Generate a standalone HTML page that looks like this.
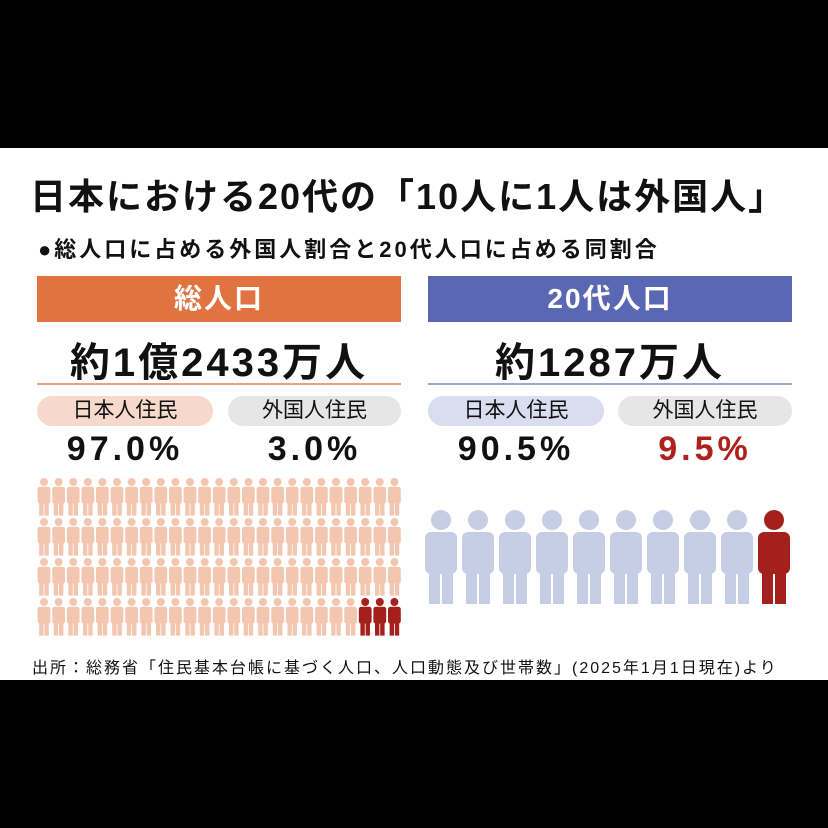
<!DOCTYPE html><html><head><meta charset="utf-8"><style>
body{margin:0;width:828px;height:828px;background:#000;position:relative;overflow:hidden;font-family:"Liberation Sans","Noto Sans CJK JP",sans-serif;}
.w{position:absolute;left:0;top:148px;width:828px;height:532px;background:#fff;}
.a{position:absolute;white-space:nowrap;color:#111;}
.bar{position:absolute;top:128px;height:46px;color:#fff;font-weight:bold;font-size:28px;text-align:center;line-height:46px;letter-spacing:2px;}
.pill{position:absolute;top:248px;height:30px;border-radius:15px;font-size:21px;text-align:center;line-height:30px;color:#111;}
.big{font-size:40px;font-weight:bold;text-align:center;letter-spacing:3px;}
.pct{font-size:34px;font-weight:bold;text-align:center;letter-spacing:4px;}
</style></head><body>
<div class="w">
<div class="a" style="left:30px;top:20px;font-size:36px;font-weight:bold;letter-spacing:2px">日本における20代の「10人に1人は外国人」</div>
<div class="a" style="left:38px;top:84px;font-size:22px;font-weight:bold;letter-spacing:3px">●総人口に占める外国人割合と20代人口に占める同割合</div>
<div class="bar" style="left:37px;width:364px;background:#e0733f">総人口</div>
<div class="bar" style="left:428px;width:364px;background:#5a68b3">20代人口</div>
<div class="a big" style="left:37px;width:364px;top:182px">約1億2433万人</div>
<div class="a big" style="left:428px;width:364px;top:182px">約1287万人</div>
<div class="a" style="left:37px;width:364px;top:235px;height:2px;background:#e8a080"></div>
<div class="a" style="left:428px;width:364px;top:235px;height:2px;background:#9ea6d4"></div>
<div class="pill" style="left:37px;width:176px;background:#f6d9cb">日本人住民</div>
<div class="pill" style="left:228px;width:173px;background:#e6e6e6">外国人住民</div>
<div class="pill" style="left:428px;width:176px;background:#d8ddf0">日本人住民</div>
<div class="pill" style="left:618px;width:174px;background:#e6e6e6">外国人住民</div>
<div class="a pct" style="left:37px;width:176px;top:282px">97.0%</div>
<div class="a pct" style="left:228px;width:173px;top:282px">3.0%</div>
<div class="a pct" style="left:428px;width:176px;top:282px">90.5%</div>
<div class="a pct" style="left:618px;width:174px;top:282px;color:#b0201c">9.5%</div>
<svg style="position:absolute;left:0;top:0" width="828" height="532">
<defs><g id="p"><circle cx="0" cy="10" r="10"/><rect x="-16" y="22" width="32" height="42" rx="6"/><rect x="-12" y="58" width="11" height="36"/><rect x="1" y="58" width="11" height="36"/></g></defs>
<g id="L"></g><g id="R"></g>
</svg>
<div class="a" style="left:32px;top:506px;font-size:16px;letter-spacing:2px">出所：総務省「住民基本台帳に基づく人口、人口動態及び世帯数」(2025年1月1日現在)より</div>
</div>
<script>
var ns="http://www.w3.org/2000/svg",L=document.getElementById('L'),R=document.getElementById('R');
for(var r=0;r<4;r++)for(var c=0;c<25;c++){var u=document.createElementNS(ns,'use');u.setAttribute('href','#p');
var x=44+c*14.6,y=330+r*40;u.setAttribute('transform','translate('+x+','+y+') scale(0.4)');
u.setAttribute('fill',(r==3&&c>=22)?'#a3201c':'#f3c6b0');L.appendChild(u);}
for(var c=0;c<10;c++){var u=document.createElementNS(ns,'use');u.setAttribute('href','#p');
u.setAttribute('transform','translate('+(441+c*37)+',362)');u.setAttribute('fill',c==9?'#a3201c':'#c6cee6');R.appendChild(u);}
</script>
</body></html>
